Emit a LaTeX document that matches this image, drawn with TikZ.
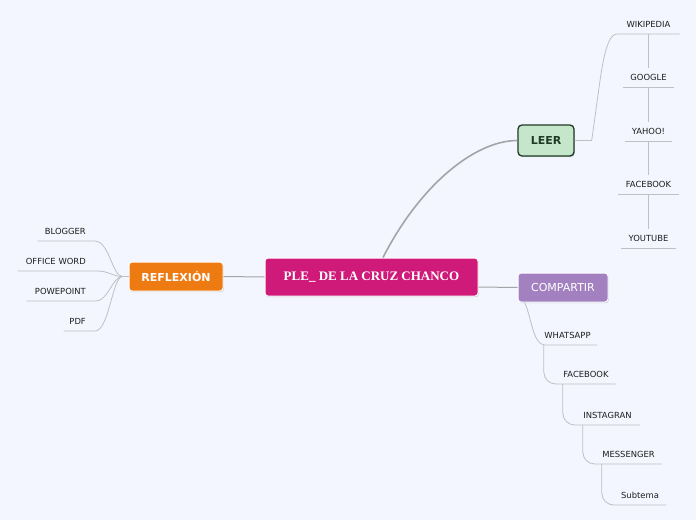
\documentclass[tikz,border=0pt]{standalone}
\usepackage{fontspec}
\newfontfamily\vfont{DejaVu Sans}
\newfontfamily\serfont{Liberation Serif}
\usetikzlibrary{shadows}
\definecolor{bgc}{HTML}{F3F6FE}
\definecolor{plec}{HTML}{CF1A79}
\definecolor{leerc}{HTML}{C6E6CC}
\definecolor{leerb}{HTML}{1F3A24}
\definecolor{reflc}{HTML}{EE7A12}
\definecolor{compc}{HTML}{A381C0}
\definecolor{lgray}{HTML}{BFC0C6}
\definecolor{mgray}{HTML}{A4A4A8}
\definecolor{leaftxt}{HTML}{1E1E1E}
\begin{document}
\begin{tikzpicture}[x=1pt,y=-1pt,
  leaf/.style={font=\vfont\fontsize{8.4}{10}\selectfont, text=leaftxt, inner xsep=0pt, inner ysep=6pt, text height=6.2pt, text depth=0pt, anchor=south},
  lline/.style={draw=lgray, line width=0.8pt},
  mline/.style={draw=mgray, line width=1pt},
  topic/.style={rounded corners=3pt, inner sep=0pt, drop shadow={shadow xshift=0.8pt, shadow yshift=-1.2pt, opacity=0.3}},
]
\fill[bgc] (0,0) rectangle (696,520);
\useasboundingbox (0,0) rectangle (696,520);

% main topics
\node[topic, fill=plec, draw=white, line width=1pt, minimum width=213pt, minimum height=38pt, font=\serfont\bfseries\fontsize{13}{15}\selectfont, text=white] (ple) at (371.5,277) {PLE\_ DE LA CRUZ CHANCO};
\node[topic, fill=leerc, draw=leerb, line width=1.3pt, rounded corners=4pt, minimum width=56pt, minimum height=31pt, font=\vfont\bfseries\fontsize{11}{13}\selectfont, text=leerb] (leer) at (546,140.5) {LEER};
\node[topic, fill=reflc, draw=white, line width=1pt, minimum width=94pt, minimum height=29pt, font=\vfont\bfseries\fontsize{11}{13}\selectfont, text=white] (refl) at (176,276.5) {REFLEXIÓN};
\node[topic, fill=compc, draw=white, line width=1pt, minimum width=90pt, minimum height=29pt, font=\vfont\fontsize{11}{13}\selectfont, text=white] (comp) at (563,287.5) {COMPARTIR};

% LEER leaves
\node[leaf, minimum width=62pt] (wiki) at (648.5,34) {WIKIPEDIA};
\node[leaf, minimum width=50pt] (goog) at (648.5,87) {GOOGLE};
\node[leaf, minimum width=47pt] (yahoo) at (648.5,141) {YAHOO!};
\node[leaf, minimum width=60pt] (fbl) at (648.5,194) {FACEBOOK};
\node[leaf, minimum width=54pt] (yt) at (648.5,248) {YOUTUBE};

% REFLEXION leaves
\node[leaf, anchor=south east, text width=48pt, align=right] (blog) at (86,241) {BLOGGER};
\node[leaf, anchor=south east, text width=68pt, align=right] (office) at (86,271) {OFFICE WORD};
\node[leaf, anchor=south east, text width=59pt, align=right] (powe) at (86,301) {POWEPOINT};
\node[leaf, anchor=south east, text width=22pt, align=right] (pdf) at (86,331) {PDF};

% COMPARTIR leaves
\node[leaf, minimum width=59pt] (wa) at (567.5,345) {WHATSAPP};
\node[leaf, minimum width=60pt] (fbc) at (586,384) {FACEBOOK};
\node[leaf, minimum width=65pt] (ins) at (607.5,425) {INSTAGRAN};
\node[leaf, minimum width=67pt] (mes) at (628.5,464) {MESSENGER};
\node[leaf, minimum width=52pt] (sub) at (640,505) {Subtema};

% main connectors
\draw[mline] (refl.east) -- (ple.west);
\draw[mline, line width=1.6pt] ([xshift=11.5pt]ple.north) .. controls (420,185) and (475,140.5) .. (leer.west);
\draw[mline] ([yshift=-10pt]ple.east) .. controls +(20,0) and +(-20,0) .. (comp.west);

% LEER connectors
\draw[lline] (leer.east) -- ++(17,0) .. controls +(9,-60) and +(-14,0) .. (wiki.south west) -- (wiki.south east);
\draw[lline] (goog.south west) -- (goog.south east);
\draw[lline] (yahoo.south west) -- (yahoo.south east);
\draw[lline] (fbl.south west) -- (fbl.south east);
\draw[lline] (yt.south west) -- (yt.south east);
\draw[lline] (wiki.south) -- (goog.north);
\draw[lline] (goog.south) -- (yahoo.north);
\draw[lline] (yahoo.south) -- (fbl.north);
\draw[lline] (fbl.south) -- (yt.north);

% REFLEXION connectors
\draw[lline] (refl.west) -- ++(-6,0) .. controls +(-10,0) and +(14,0) .. ([xshift=9pt]blog.south east) -- (blog.south west);
\draw[lline] (refl.west) -- ++(-6,0) .. controls +(-10,0) and +(12,0) .. ([xshift=11pt]office.south east) -- (office.south west);
\draw[lline] (refl.west) -- ++(-6,0) .. controls +(-10,0) and +(12,0) .. ([xshift=10pt]powe.south east) -- (powe.south west);
\draw[lline] (refl.west) -- ++(-6,0) .. controls +(-10,0) and +(14,0) .. ([xshift=9pt]pdf.south east) -- (pdf.south west);

% COMPARTIR connectors
\draw[lline] ([xshift=7pt]comp.south west) .. controls +(7,14) and +(-12,0) .. ([xshift=7pt]wa.south west) -- (wa.south east);
\draw[lline, rounded corners=12pt] ([xshift=6pt]wa.south west) |- (fbc.south east);
\draw[lline, rounded corners=12pt] ([xshift=7pt]fbc.south west) |- (ins.south east);
\draw[lline, rounded corners=12pt] ([xshift=8pt]ins.south west) |- (mes.south east);
\draw[lline, rounded corners=12pt] ([xshift=7pt]mes.south west) |- (sub.south east);
\end{tikzpicture}
\end{document}
